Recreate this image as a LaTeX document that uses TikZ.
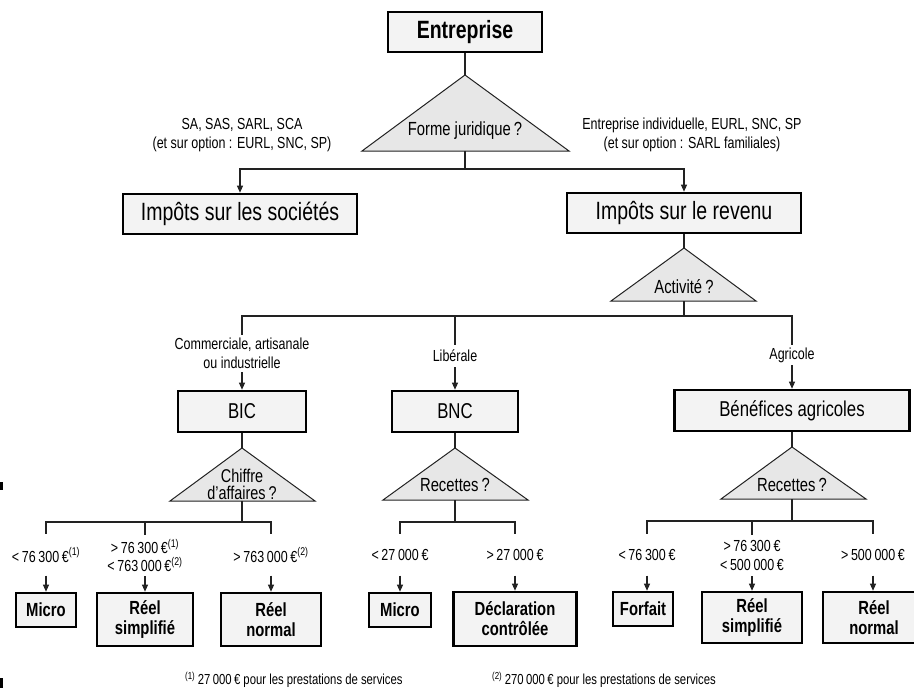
\documentclass[tikz,border=0pt]{standalone}
\usepackage{fontspec}
\setmainfont{Liberation Sans}[FakeStretch=0.78]
\usetikzlibrary{arrows.meta}
\definecolor{boxfill}{HTML}{F3F3F3}
\definecolor{trifill}{HTML}{E7E7E7}
\definecolor{linecol}{HTML}{222222}
\newcommand\fsBig{\fontsize{25}{28}\selectfont}
\newcommand\fsMid{\fontsize{21.5}{24}\selectfont}
\newcommand\fsQ{\fontsize{19}{18}\selectfont}
\newcommand\fsSmall{\fontsize{16}{18.5}\selectfont}
\newcommand\fsBold{\fontsize{19}{20}\selectfont\bfseries}
\newcommand\fsFoot{\fontsize{14.5}{16}\selectfont}
\begin{document}
\begin{tikzpicture}[x=1pt,y=-1pt,
  box/.style={draw=black, line width=2.6pt, fill=boxfill, inner sep=0pt, align=center},
  tri/.style={draw=linecol, line width=1pt, fill=trifill},
  conn/.style={draw=linecol, line width=1.1pt},
  arr/.style={conn, -{Triangle[length=7pt,width=6pt]}},
  lbl/.style={inner sep=0pt, align=center, font=\fsSmall},
  thr/.style={lbl, minimum height=41pt},
  qtext/.style={inner sep=0pt, align=center, font=\fsQ}
]
\useasboundingbox (0,0) rectangle (914,688);
\clip (0,0) rectangle (914,688);

% ---------- top ----------
\node[box, minimum width=154pt, minimum height=40pt, font=\fsBig\bfseries] (E) at (465,32) {Entreprise};
\draw[tri] (465,75) -- (569,151) -- (362,151) -- cycle;
\coordinate (t1a) at (465,75);
\coordinate (t1b) at (465,151);
\node[qtext, font=\fsQ] (q1) at (465,131) {Forme juridique\,?};
\draw[conn] (E.south) -- (t1a);

\node[lbl] (lsa) at (242,135) {SA, SAS, SARL, SCA\\(et sur option : EURL, SNC, SP)};
\node[lbl] (lei) at (692,135) {Entreprise individuelle, EURL, SNC, SP\\(et sur option : SARL familiales)};

\node[box, minimum width=234pt, minimum height=40pt, font=\fsBig] (IS) at (240,214) {Impôts sur les sociétés};
\node[box, minimum width=234pt, minimum height=40pt, font=\fsBig] (IR) at (684,213) {Impôts sur le revenu};
\coordinate (j1) at (465,169);
\draw[conn] (t1b) -- (j1);
\draw[arr] (j1) -| (IS.north);
\draw[arr] (j1) -| (IR.north);

% ---------- activity ----------
\draw[tri] (684,248) -- (756,301) -- (611,301) -- cycle;
\coordinate (t2a) at (684,248);
\coordinate (t2b) at (684,301);
\node[qtext] (q2) at (684,287) {Activité\,?};
\draw[conn] (IR.south) -- (t2a);
\coordinate (j2) at (684,316);
\coordinate (j2m) at (455,316);
\draw[conn] (t2b) -- (j2);

\node[lbl, minimum height=37pt] (lcom) at (242,353.5) {Commerciale, artisanale\\ou industrielle};
\node[lbl, minimum height=22pt] (llib) at (455,356) {Libérale};
\node[lbl, minimum height=20pt] (lagr) at (792,355) {Agricole};
\draw[conn] (j2) -| (lcom.north);
\draw[conn] (j2) -| (lagr.north);
\draw[conn] (j2m) -- (llib.north);

\node[box, minimum width=128pt, minimum height=41pt, font=\fsMid] (BIC) at (242,411.5) {BIC};
\node[box, minimum width=126pt, minimum height=41pt, font=\fsMid] (BNC) at (455,411.5) {BNC};
\node[box, minimum width=235pt, minimum height=41pt, font=\fsMid] (BA) at (792,410.5) {Bénéfices agricoles};
\draw[arr] (lcom.south) -- (BIC.north);
\draw[arr] (llib.south) -- (BNC.north);
\draw[arr] (lagr.south) -- (BA.north);

% ---------- BIC ----------
\draw[tri] (242,448) -- (315,501) -- (170,501) -- cycle;
\coordinate (t3a) at (242,448);
\coordinate (t3b) at (242,501);
\node[qtext, font=\fontsize{18.5}{17}\selectfont] (q3) at (242,484) {Chiffre\\d'affaires\,?};
\draw[conn] (BIC.south) -- (t3a);
\coordinate (j3) at (242,522);
\coordinate (j3m) at (145,522);
\draw[conn] (t3b) -- (j3);

\node[thr] (a1) at (46,555) {<\,76\,300\,€\textsuperscript{(1)}};
\node[thr] (a2) at (145,555.5) {>\,76\,300\,€\textsuperscript{(1)}\\<\,763\,000\,€\textsuperscript{(2)}};
\node[thr] (a3) at (271,555) {>\,763\,000\,€\textsuperscript{(2)}};
\draw[conn] (j3) -| (a1.north);
\draw[conn] (j3) -| (a3.north);
\draw[conn] (j3m) -- (a2.north);

\node[box, minimum width=60pt, minimum height=34pt, font=\fsBold] (m1) at (46,610) {Micro};
\node[box, minimum width=96pt, minimum height=53pt, font=\fsBold] (rs1) at (145,619.5) {Réel\\simplifié};
\node[box, minimum width=100pt, minimum height=53pt, font=\fsBold] (rn1) at (271,619.5) {Réel\\normal};
\draw[arr] (a1.south) -- (m1.north);
\draw[arr] (a2.south) -- (rs1.north);
\draw[arr] (a3.south) -- (rn1.north);

% ---------- BNC ----------
\draw[tri] (455,448) -- (528,500) -- (383,500) -- cycle;
\coordinate (t4a) at (455,448);
\coordinate (t4b) at (455,500);
\node[qtext] (q4) at (455,485) {Recettes\,?};
\draw[conn] (BNC.south) -- (t4a);
\coordinate (j4) at (455,522);
\draw[conn] (t4b) -- (j4);

\node[thr] (b1) at (400,555) {<\,27\,000\,€};
\node[thr] (b2) at (515,555) {>\,27\,000\,€};
\draw[conn] (j4) -| (b1.north);
\draw[conn] (j4) -| (b2.north);

\node[box, minimum width=62pt, minimum height=34pt, font=\fsBold] (m2) at (400,610) {Micro};
\node[box, minimum width=123pt, minimum height=54pt, font=\fsBold] (dc) at (515,619) {Déclaration\\contrôlée};
\draw[arr] (b1.south) -- (m2.north);
\draw[arr] (b2.south) -- (dc.north);

% ---------- BA ----------
\draw[tri] (792,447) -- (866,499) -- (721,499) -- cycle;
\coordinate (t5a) at (792,447);
\coordinate (t5b) at (792,499);
\node[qtext] (q5) at (792,485) {Recettes\,?};
\draw[conn] (BA.south) -- (t5a);
\coordinate (j5) at (792,521);
\coordinate (j5m) at (752,521);
\draw[conn] (t5b) -- (j5);

\node[thr] (c1) at (647,555) {<\,76\,300\,€};
\node[thr] (c2) at (752,555.5) {>\,76\,300\,€\\<\,500\,000\,€};
\node[thr] (c3) at (873,555) {>\,500\,000\,€};
\draw[conn] (j5) -| (c1.north);
\draw[conn] (j5) -| (c3.north);
\draw[conn] (j5m) -- (c2.north);

\node[box, minimum width=60pt, minimum height=34pt, font=\fsBold] (ff) at (643,609) {Forfait};
\node[box, minimum width=100pt, minimum height=51pt, font=\fsBold] (rs2) at (752,617.5) {Réel\\simplifié};
\node[box, minimum width=102pt, minimum height=51pt, font=\fsBold] (rn2) at (874,617.5) {Réel\\normal};
\draw[arr] (c1.south) -- (c1.south |- ff.north);
\draw[arr] (c2.south) -- (rs2.north);
\draw[arr] (c3.south) -- (c3.south |- rn2.north);

% ---------- footnotes ----------
\node[anchor=base west, inner sep=0pt, font=\fsFoot] (fn1) at (185,684.5) {\textsuperscript{(1)}\,27\,000\,€ pour les prestations de services};
\node[anchor=base west, inner sep=0pt, font=\fsFoot] (fn2) at (492,684.5) {\textsuperscript{(2)}\,270\,000\,€ pour les prestations de services};

% scan marks at left edge
\fill (0,482) rectangle (3,490);
\fill (0,678) rectangle (3,688);
\end{tikzpicture}
\end{document}
